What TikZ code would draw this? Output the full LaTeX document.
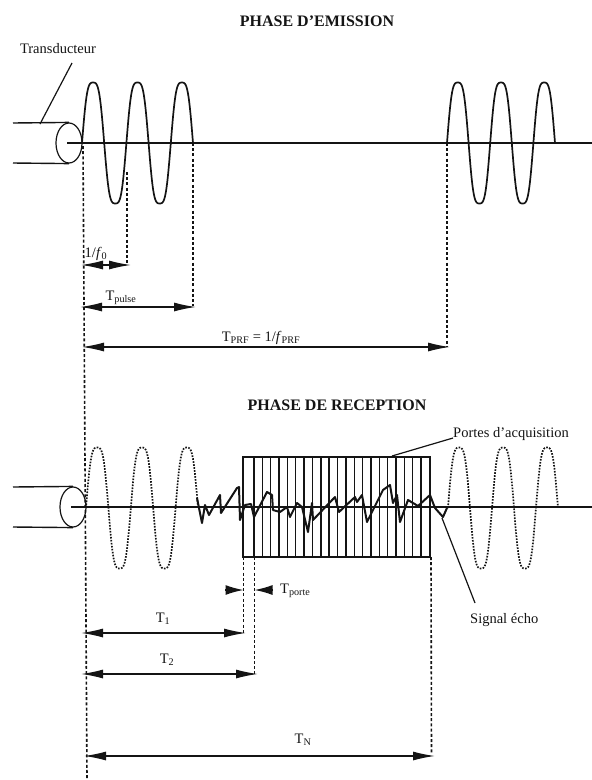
\documentclass[tikz,border=0pt]{standalone}
\usepackage{fontspec}
\setmainfont{Liberation Serif}
\usetikzlibrary{arrows.meta, positioning, shapes.geometric}
\definecolor{mInk}{HTML}{141414}
\tikzset{
  axisline/.style={draw=mInk, line width=1.4pt},
  wavesolid/.style={draw=mInk, line width=1.7pt},
  wavedot/.style={draw=mInk, line width=1.7pt, dash pattern=on 1.6pt off 1.4pt},
  guide/.style={draw=mInk, line width=1.6pt, dash pattern=on 3pt off 2.2pt},
  dimline/.style={draw=mInk, line width=1.4pt, {Latex[length=22pt,width=9pt]}-{Latex[length=22pt,width=9pt]}},
  pointer/.style={draw=mInk, line width=1.2pt},
  probe/.style={draw=mInk, line width=1.2pt, ellipse, inner sep=0pt, minimum width=26pt, minimum height=40pt},
  lab/.style={text=mInk, inner sep=0pt, font=\fontsize{14.5}{16}\selectfont},
  title/.style={text=mInk, inner sep=0pt, font=\fontsize{16}{18}\selectfont\bfseries}
}
\begin{document}
\begin{tikzpicture}[x=1pt, y=-1pt]
    \useasboundingbox (0,0) rectangle (592,780);
    \node[title] (titleE) at (317,21) {PHASE D'EMISSION};
    \node[title] (titleR) at (337,405) {PHASE DE RECEPTION};
    % transducers and axes
    \foreach \n/\xc/\yc in {E/69/143, R/73/507} {
      \node[probe] (probe\n) at (\xc,\yc) {};
      \coordinate (up\n) at (13,\yc-20);
      \coordinate (lo\n) at (13,\yc+20);
      \coordinate (axis\n) at (\xc-2,\yc);
      \coordinate (end\n) at (592,\yc);
      \draw[axisline] (up\n) -- (probe\n.north);
      \draw[axisline] (lo\n) -- (probe\n.south);
      \draw[axisline] (axis\n) -- (end\n);
    }
    \foreach \xs/\xw/\yc/\sty in {82/111/143/wavesolid, 447/108/143/wavesolid, 86/112/508/wavedot, 448/110/508/wavedot} {
      \draw[\sty] plot[domain=0:2.5, samples=151, smooth]
        ({\xs+\xw*\x/2.5},{\yc-60.5*(sin(360*\x)+0.1*sin(1080*\x))/0.9});
    }
    % gates
    \node[draw=mInk, line width=1.4pt, minimum width=187pt, minimum height=100pt, inner sep=0pt] (gate) at (336.5,507) {};
    \foreach \i in {0,...,20} {
      \coordinate (gt\i) at ({254+8.35*\i},457);
      \coordinate (gb\i) at ({254+8.35*\i},557);
      \draw[draw=mInk, line width=1.4pt] (gt\i) -- (gb\i);
    }
    \draw[draw=mInk, line width=2pt, line join=round] plot coordinates {
      (197,498) (202,523) (205,505) (209,515) (220,495) (221,513) (237,488) (239,487)
      (240,520) (245,505) (251,504) (254,517) (267,492) (272,495) (273,510) (280,512)
      (287,507) (290,517) (297,503) (302,507) (308,532) (312,503) (313,520) (335,497)
      (339,512) (355,497) (357,502) (362,495) (367,522) (383,490) (390,485) (393,503)
      (397,495) (400,522) (408,500) (418,506) (430,495) (435,508) (443,517) (447,508)};
    % guides
    \foreach \n/\xa/\ya/\xb/\yb in {g0/83/146/87/779, g1/127/172/127/265, g2/193/143/193/306,
      g3/447/143/447/347, g4/243.5/557/243.5/633, g5/254.5/557/254.5/674, g6/431/557/431.5/753} {
      \coordinate (\n a) at (\xa,\ya);
      \coordinate (\n b) at (\xb,\yb);
      \draw[guide] (\n a) -- (\n b);
    }
    % dimensions
    \foreach \n/\xa/\xb/\yy/\xl/\yl/\txt in {
      d1/81/131/265/96/254/{1/\textit{f}\textsubscript{0}},
      d2/80/196/307/121/298/{T\textsubscript{pulse}},
      d3/82/450/347/261/338/{T\textsubscript{PRF} = 1/\textit{f}\textsubscript{PRF}},
      d4/81/246/633/163/619/{T\textsubscript{1}},
      d5/81/258/674/167/660/{T\textsubscript{2}},
      d6/84/435/756/303/740/{T\textsubscript{N}}} {
      \coordinate (\n a) at (\xa,\yy);
      \coordinate (\n b) at (\xb,\yy);
      \draw[dimline] (\n a) -- (\n b);
      \node[lab] (\n lab) at (\xl,\yl) {\txt};
    }
    \coordinate (pa) at (225,590);
    \coordinate (pb) at (243.5,590);
    \coordinate (pc) at (273,590);
    \coordinate (pd) at (254.5,590);
    \draw[axisline, -{Latex[length=18pt,width=10pt]}] (pa) -- (pb);
    \draw[axisline, -{Latex[length=18pt,width=10pt]}] (pc) -- (pd);
    \node[lab, anchor=west] (porte) at (280,591) {T\textsubscript{porte}};
    % callouts
    \node[lab] (transd) at (58,49) {Transducteur};
    \node[lab, anchor=west] (portes) at (453,434) {Portes d'acquisition};
    \node[lab, anchor=west] (echo) at (470,620) {Signal écho};
    \coordinate (transdA) at (72,63);
    \coordinate (transdB) at (40,124);
    \coordinate (gateP) at (392,456);
    \coordinate (echoP) at (442,518);
    \coordinate (echoQ) at (475,603);
    \coordinate (portesP) at (453,438);
    \draw[pointer] (transdA) -- (transdB);
    \draw[pointer] (portesP) -- (gateP);
    \draw[pointer] (echoP) -- (echoQ);
  \end{tikzpicture}
\end{document}
